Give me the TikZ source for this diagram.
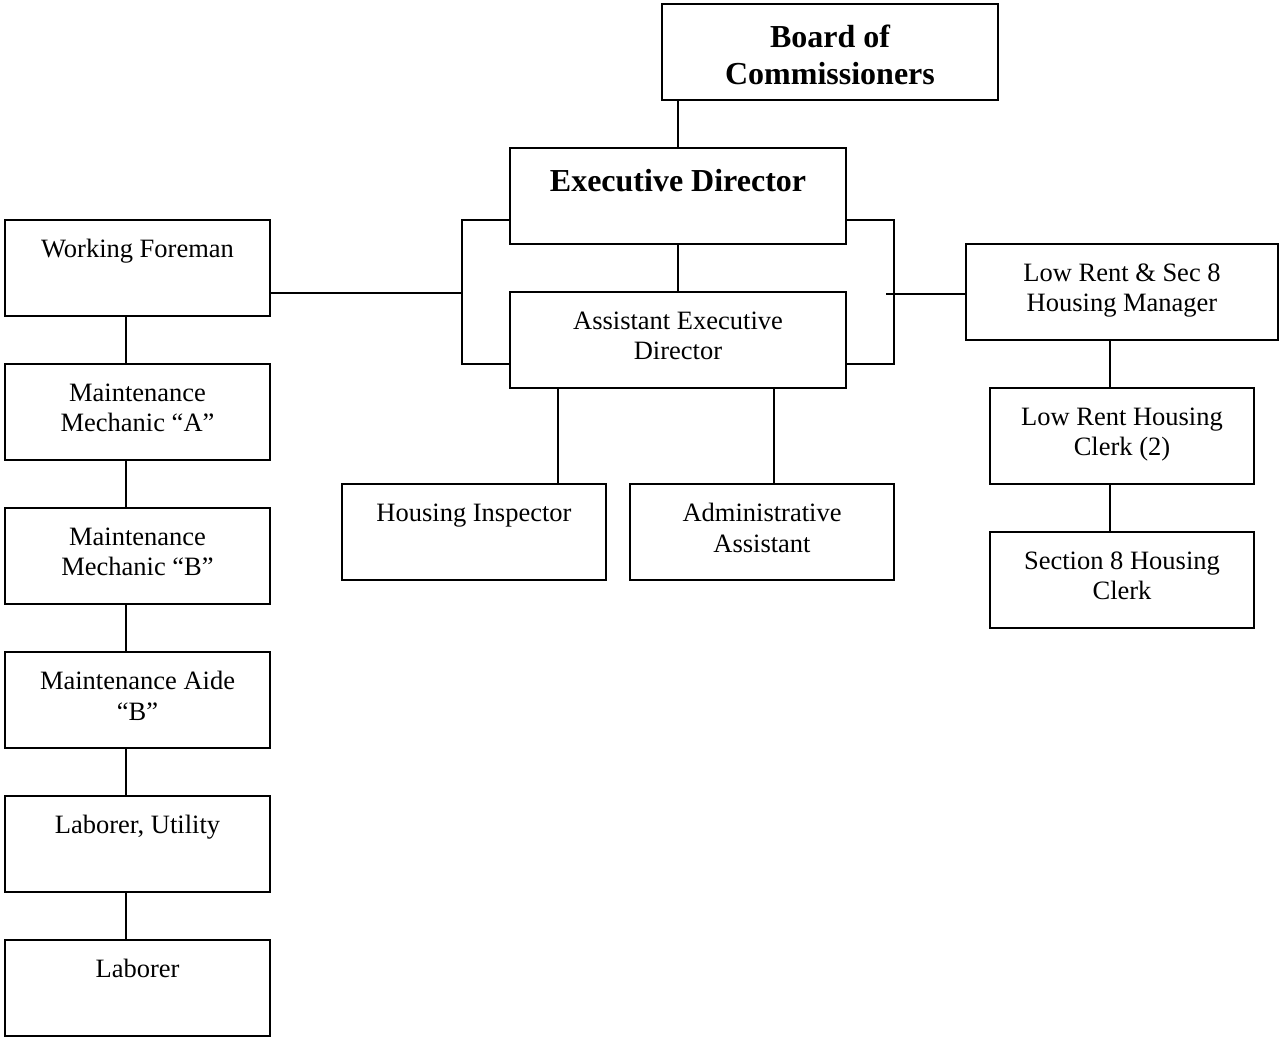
\documentclass[tikz,border=0pt]{standalone}
\usepackage{fontspec}
\setmainfont{Liberation Serif}
\begin{document}
\begin{tikzpicture}[x=1pt,y=-1pt,line width=1.8pt,
  box/.style={draw,line width=1.8pt,inner sep=0pt,minimum width=264pt,minimum height=96pt},
  widebox/.style={box,minimum width=336pt},
  lbl/.style={anchor=north,inner sep=0pt,align=center,font=\fontsize{26.5}{30.5}\selectfont},
  blbl/.style={anchor=north,inner sep=0pt,align=center,font=\fontsize{32}{37}\selectfont\bfseries}]
\useasboundingbox (0,0) rectangle (1279,1037);

% boxes
\node[widebox] (board) at (830,52) {};
\node[widebox] (exec) at (678,196) {};
\node[widebox] (asst) at (678,340) {};
\node[box,minimum width=265pt] (wf) at (137.5,268) {};
\node[box,minimum width=265pt] (mma) at (137.5,412) {};
\node[box,minimum width=265pt] (mmb) at (137.5,556) {};
\node[box,minimum width=265pt] (aide) at (137.5,700) {};
\node[box,minimum width=265pt] (lu) at (137.5,844) {};
\node[box,minimum width=265pt] (lab) at (137.5,988) {};
\node[box] (hi) at (474,532) {};
\node[box] (aa) at (762,532) {};
\node[box,minimum width=312pt] (mgr) at (1122,292) {};
\node[box] (lrc) at (1122,436) {};
\node[box] (s8) at (1122,580) {};

% labels
\node[blbl] (board-t) at ([yshift=-21pt]board.north) {Board of\\Commissioners};
\node[blbl] (exec-t) at ([yshift=-21pt]exec.north) {Executive Director};
\node[lbl] (asst-t) at ([yshift=-19.5pt]asst.north) {Assistant Executive\\Director};
\node[lbl] (wf-t) at ([yshift=-19.5pt]wf.north) {Working Foreman};
\node[lbl] (mma-t) at ([yshift=-19.5pt]mma.north) {Maintenance\\Mechanic “A”};
\node[lbl] (mmb-t) at ([yshift=-19.5pt]mmb.north) {Maintenance\\Mechanic “B”};
\node[lbl] (aide-t) at ([yshift=-19.5pt]aide.north) {Maintenance Aide\\“B”};
\node[lbl] (lu-t) at ([yshift=-19.5pt]lu.north) {Laborer, Utility};
\node[lbl] (lab-t) at ([yshift=-19.5pt]lab.north) {Laborer};
\node[lbl] (hi-t) at ([yshift=-19.5pt]hi.north) {Housing Inspector};
\node[lbl] (aa-t) at ([yshift=-19.5pt]aa.north) {Administrative\\Assistant};
\node[lbl] (mgr-t) at ([yshift=-19.5pt]mgr.north) {Low Rent \& Sec 8\\Housing Manager};
\node[lbl] (lrc-t) at ([yshift=-19.5pt]lrc.north) {Low Rent Housing\\Clerk (2)};
\node[lbl] (s8-t) at ([yshift=-19.5pt]s8.north) {Section 8 Housing\\Clerk};

% helper coordinates
\coordinate (lcx) at (126,0);
\coordinate (rcx) at (1110,0);
\coordinate (hix) at (558,0);
\coordinate (aax) at (774,0);
\coordinate (lb1) at (462,220);
\coordinate (lb2) at (462,364);
\coordinate (lbm) at (462,293);
\coordinate (rb1) at (894,220);
\coordinate (rb2) at (894,364);
\coordinate (rbm) at (886,294);

% connectors
\draw (exec.north) -- (exec.north |- board.south);
\draw (exec.south) -- (asst.north);
\draw ([yshift=-24pt]exec.west) -- (lb1) -- (lb2) -- ([yshift=-24pt]asst.west);
\draw ([yshift=-24pt]exec.east) -- (rb1) -- (rb2) -- ([yshift=-24pt]asst.east);
\draw ([yshift=-25pt]wf.east) -- (lbm);
\draw (rbm) -- (mgr.west |- rbm);
\draw (asst.south -| hix) -- (hi.north -| hix);
\draw (asst.south -| aax) -- (aa.north -| aax);
\draw (mgr.south -| rcx) -- (lrc.north -| rcx);
\draw (lrc.south -| rcx) -- (s8.north -| rcx);
\draw (wf.south -| lcx) -- (mma.north -| lcx);
\draw (mma.south -| lcx) -- (mmb.north -| lcx);
\draw (mmb.south -| lcx) -- (aide.north -| lcx);
\draw (aide.south -| lcx) -- (lu.north -| lcx);
\draw (lu.south -| lcx) -- (lab.north -| lcx);
\end{tikzpicture}
\end{document}
